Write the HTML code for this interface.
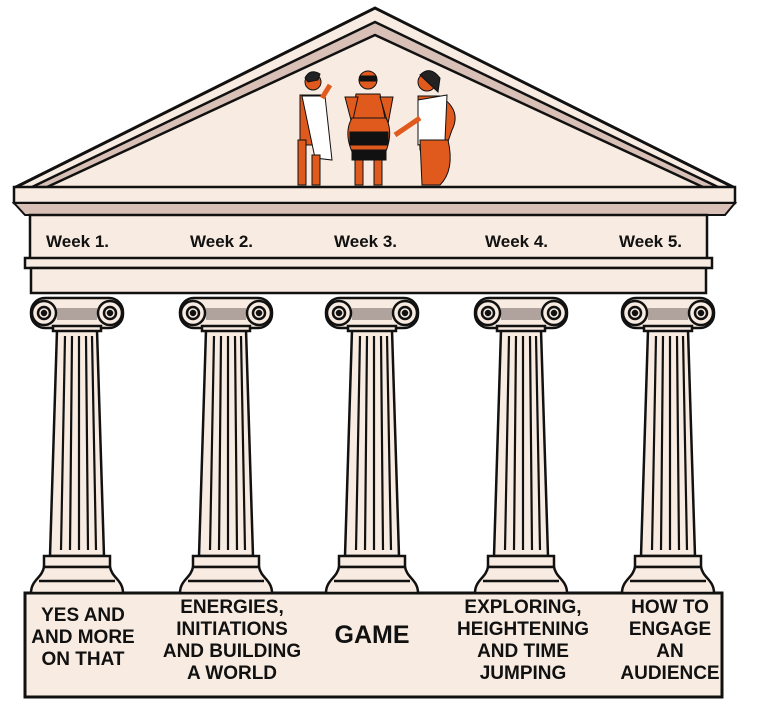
<!DOCTYPE html>
<html><head><meta charset="utf-8"><style>
html,body{margin:0;padding:0;background:#fff;}
svg{display:block;}
.w{font-family:"Liberation Sans Narrow","Liberation Sans",sans-serif;font-weight:bold;font-size:17px;fill:#111;}
.b{font-family:"Liberation Sans Narrow","Liberation Sans",sans-serif;font-weight:bold;font-size:19px;fill:#111;text-anchor:middle;}
</style></head><body>
<svg width="762" height="705" viewBox="0 0 762 705" xmlns="http://www.w3.org/2000/svg">
<defs>
<g id="col" stroke="#111" stroke-width="2.5" fill="#f8ebe1">
  <path d="M-20 330 L20 330 L27 556 L-27 556 Z"/>
  <g stroke-width="2.2"><line x1="-12" y1="336" x2="-16" y2="550"/><line x1="-5" y1="336" x2="-7" y2="550"/><line x1="2" y1="336" x2="2" y2="550"/><line x1="9" y1="336" x2="11" y2="550"/><line x1="15" y1="336" x2="19" y2="550"/></g>
  <rect x="-46" y="298" width="92" height="30" rx="14"/>
  <rect x="-20" y="308" width="40" height="12" fill="#b0a29c" stroke="none"/>
  <rect x="-24" y="326" width="48" height="5"/>
  <circle cx="-33" cy="313" r="12"/><circle cx="-33" cy="313" r="6"/><circle cx="-33" cy="313" r="2" fill="#111"/>
  <circle cx="33" cy="313" r="12"/><circle cx="33" cy="313" r="6"/><circle cx="33" cy="313" r="2" fill="#111"/>
  <rect x="-33" y="556" width="66" height="11"/>
  <path d="M-33 567 C-35 578 -46 580 -46 593 L46 593 C46 580 35 578 33 567 Z"/>
  <line x1="-38" y1="581" x2="38" y2="581"/>
</g>
</defs>
<path d="M14 188 L375 8 L735 188 Z" fill="#f8ebe1" stroke="#111" stroke-width="3"/>
<path d="M30 188 L375 22 L720 188 Z" fill="#d8c0b6" stroke="#111" stroke-width="2.5"/>
<path d="M45 188 L375 35 L705 188 Z" fill="#f8ebe1" stroke="#111" stroke-width="2.5"/>
<rect x="14" y="187" width="721" height="16" fill="#f8ebe1" stroke="#111" stroke-width="2.5"/>
<path d="M14 203 L735 203 L725 215 L25 215 Z" fill="#d8c0b6" stroke="#111" stroke-width="2"/>
<rect x="30" y="215" width="677" height="44" fill="#f8ebe1" stroke="#111" stroke-width="2.5"/>
<rect x="25" y="258" width="687" height="10" fill="#f8ebe1" stroke="#111" stroke-width="2.5"/>
<rect x="31" y="268" width="675" height="25" fill="#f8ebe1" stroke="#111" stroke-width="2.5"/>
<text class="w" x="46" y="247">Week 1.</text>
<text class="w" x="190" y="247">Week 2.</text>
<text class="w" x="334" y="247">Week 3.</text>
<text class="w" x="485" y="247">Week 4.</text>
<text class="w" x="619" y="247">Week 5.</text>
<g stroke="#111" stroke-width="1">
  <circle cx="313" cy="82" r="8" fill="#e05a1e"/>
  <path d="M305 78 Q310 68 320 74 L318 80 L308 82 Z" fill="#222"/>
  <rect x="300" y="95" width="22" height="50" fill="#e05a1e"/>
  <path d="M302 96 L325 96 L332 160 L315 158 Z" fill="#fff"/>
  <path d="M322 98 L330 85" stroke="#e05a1e" stroke-width="5"/>
  <rect x="298" y="140" width="8" height="45" fill="#e05a1e"/><rect x="312" y="155" width="8" height="30" fill="#e05a1e"/>
  <circle cx="368" cy="80" r="9" fill="#e05a1e"/>
  <rect x="360" y="76" width="16" height="5" fill="#111"/>
  <path d="M356 94 L380 94 L385 118 L352 118 Z" fill="#e05a1e"/>
  <path d="M345 97 L358 97 L352 124 Z M380 97 L393 97 L388 124 Z" fill="#e05a1e"/>
  <path d="M352 118 L386 118 Q395 135 382 160 L356 160 Q342 135 352 118 Z" fill="#e05a1e"/>
  <rect x="350" y="132" width="38" height="13" fill="#111"/>
  <rect x="352" y="150" width="34" height="10" fill="#111"/>
  <rect x="355" y="160" width="8" height="25" fill="#e05a1e"/><rect x="374" y="160" width="8" height="25" fill="#e05a1e"/>
  <circle cx="427" cy="82" r="9" fill="#e05a1e"/>
  <path d="M420 75 Q430 65 440 78 L438 92 Z" fill="#222"/>
  <path d="M418 96 L440 96 Q462 110 452 130 L445 150 L420 150 Z" fill="#e05a1e"/>
  <path d="M418 100 L447 95 L445 140 L418 145 Z" fill="#fff"/>
  <path d="M420 118 L395 135" stroke="#e05a1e" stroke-width="5"/>
  <path d="M420 140 L448 140 Q455 170 440 185 L422 185 Z" fill="#e05a1e"/>
</g>
<rect x="25" y="593" width="697" height="104" fill="#f8ebe1" stroke="#111" stroke-width="3"/>
<use href="#col" transform="translate(77,0)"/>
<use href="#col" transform="translate(226,0)"/>
<use href="#col" transform="translate(372,0)"/>
<use href="#col" transform="translate(521,0)"/>
<use href="#col" transform="translate(668,0)"/>
<g class="b">
<text x="83" y="621">YES AND</text><text x="83" y="643">AND MORE</text><text x="83" y="665">ON THAT</text>
<text x="232" y="613">ENERGIES,</text><text x="232" y="635">INITIATIONS</text><text x="232" y="657">AND BUILDING</text><text x="232" y="679">A WORLD</text>
<text x="372" y="643" style="font-size:25px">GAME</text>
<text x="523" y="613">EXPLORING,</text><text x="523" y="635">HEIGHTENING</text><text x="523" y="657">AND TIME</text><text x="523" y="679">JUMPING</text>
<text x="670" y="613">HOW TO</text><text x="670" y="635">ENGAGE</text><text x="670" y="657">AN</text><text x="670" y="679">AUDIENCE</text>
</g>
</svg>
</body></html>
